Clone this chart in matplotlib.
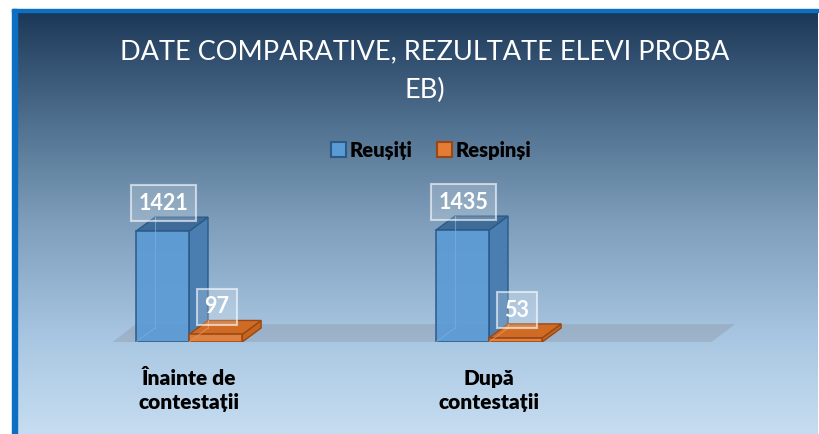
import matplotlib.pyplot as plt
import numpy as np
from matplotlib.patches import Polygon, Rectangle, Patch
from matplotlib.colors import LinearSegmentedColormap

# data
categories = ['Înainte de\ncontestații', 'După\ncontestații']
series_names = ['Reușiți', 'Respinși']
reusiti = [1421, 1435]
respinsi = [97, 53]
title = 'DATE COMPARATIVE, REZULTATE ELEVI PROBA\nEB)'

W, H = 819, 434
fig = plt.figure(figsize=(W / 100, H / 100), dpi=100)
fig.patch.set_facecolor('white')

# gradient background (dark navy -> light blue)
bg = fig.add_axes([17 / W, 0, 801 / W, 422 / H])
cmap = LinearSegmentedColormap.from_list('bg', [
    (0.0, '#1c3858'), (0.256, '#4f6f8e'), (0.493, '#7d9dbb'),
    (0.777, '#a9c7e2'), (1.0, '#c6ddf1')])
bg.imshow(np.linspace(0, 1, 256).reshape(-1, 1), aspect='auto', cmap=cmap,
          extent=[0, 1, 0, 1])
bg.axis('off')

# blue frame on left and top
fig.patches.append(Rectangle((12 / W, 0), 5 / W, 425 / H, transform=fig.transFigure,
                             color='#0b6fc2', zorder=5))
fig.patches.append(Rectangle((12 / W, 422 / H), 806 / W, 3 / H, transform=fig.transFigure,
                             color='#0b6fc2', zorder=5))

# plot axes
ax = fig.add_axes([100 / W, 92 / H, 660 / W, 156 / H])
ax.set_xlim(-0.297, 1.903)
ax.set_ylim(0, 2000)
ax.axis('off')

w = 0.177
dx, dy = 0.063, 179

# floor
floor_x0, floor_x1 = -0.26, 1.737
ax.add_patch(Polygon([(floor_x0, -13), (floor_x1, -13), (floor_x1 + 0.083, 230),
                      (floor_x0 + 0.083, 230)], closed=True, facecolor='#8e9cad',
                     alpha=0.45, edgecolor='none', zorder=1))

styles = [
    dict(front='#5b9bd5', side='#4a7eb0', top='#3f6b98', edge='#2a5a88', back='#7aaedb'),
    dict(front='#e37c35', side='#c5651f', top='#cf6b24', edge='#9a4813', back='#e89a62'),
]

series = [reusiti, respinsi]
for i in range(len(categories)):
    for j, vals in enumerate(series):
        st = styles[j]
        h = vals[i]
        x = i - w + j * w
        z = 2 + j * 3
        # hidden back edges, seen through the glassy front
        ax.plot([x + dx, x + dx], [dy, h + dy], color=st['back'], lw=0.8, alpha=0.7, zorder=z + 1.5)
        ax.plot([x, x + dx], [0, dy], color=st['back'], lw=0.8, alpha=0.7, zorder=z + 1.5)
        ax.add_patch(Polygon([(x + w, 0), (x + w + dx, dy), (x + w + dx, h + dy), (x + w, h)],
                             closed=True, facecolor=st['side'], edgecolor=st['edge'],
                             lw=1.0, zorder=z))
        ax.add_patch(Polygon([(x, h), (x + dx, h + dy), (x + w + dx, h + dy), (x + w, h)],
                             closed=True, facecolor=st['top'], edgecolor=st['edge'],
                             lw=1.0, zorder=z))
        ax.bar(x, h, width=w, align='edge', color=st['front'], alpha=0.92,
               edgecolor=st['edge'], lw=1.2, zorder=z + 1)
        ax.annotate(str(h), xy=(x + w / 2, h), xytext=(1, 20), textcoords='offset points',
                    ha='center', va='center', color='white', fontsize=15.5, fontweight='bold',
                    family='Lato', zorder=10,
                    bbox=dict(boxstyle='square,pad=0.35', facecolor=(1, 1, 1, 0.2),
                              edgecolor=(1, 1, 1, 0.6), lw=1.5))
    ax.annotate(categories[i], xy=(i, 0), xytext=(0, -35), textcoords='offset points',
                ha='center', va='center', color='black', fontsize=15, fontweight='heavy',
                family='Lato', linespacing=1.3, annotation_clip=False)

# title
fig.text(425 / W, (H - 71) / H, title, ha='center', va='center', color='white',
         fontsize=19.5, family='Lato', linespacing=1.7)

# legend
handles = [Patch(facecolor=styles[k]['front'], edgecolor=styles[k]['edge'], lw=1.5)
           for k in range(2)]
leg = fig.legend(handles, series_names, loc='center', bbox_to_anchor=(431 / W, (H - 150) / H),
                 ncol=2, frameon=False, handlelength=0.75, handleheight=0.75,
                 handletextpad=0.2, columnspacing=1.2,
                 prop=dict(family='Lato', weight='heavy', size=14.5))

fig.savefig('out.png', dpi=100)
